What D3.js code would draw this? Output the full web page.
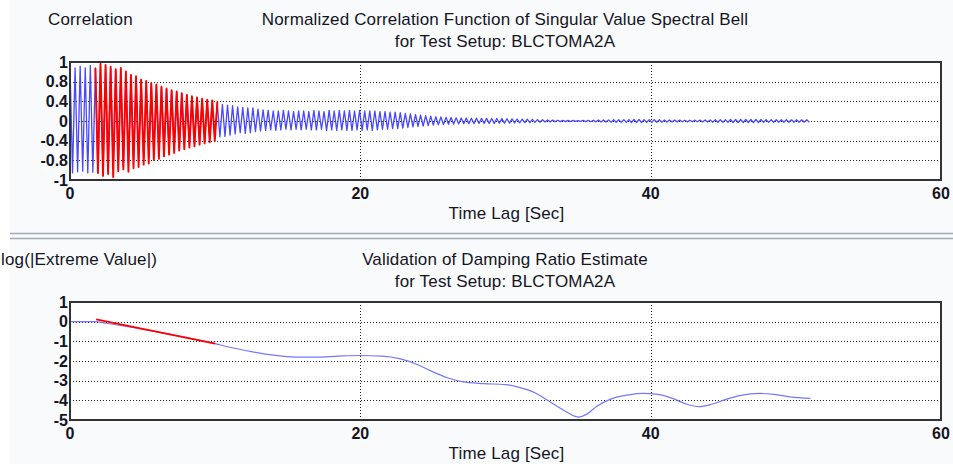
<!DOCTYPE html>
<html>
<head>
<meta charset="utf-8">
<script src="https://cdn.jsdelivr.net/npm/d3@7"></script>
<style>
    body { margin: 0; background: #ffffff; }
    #chart { width: 953px; height: 464px; }
    text { font-family: "Liberation Sans", Arial, sans-serif; fill: #15151f; }
    .tick-label { font-size: 16px; font-weight: bold; }
    .title { font-size: 17px; letter-spacing: 0.15px; }
</style>
</head>
<body>
<div id="chart"></div>
<script>

// time axis
let timeTicks = [0, 20, 40, 60];
let timeTickLabels = ["0", "20", "40", "60"];

// top panel: correlation, grid is in thirds but labelled like this
let corrTicks = [-1, -2 / 3, -1 / 3, 0, 1 / 3, 2 / 3, 1];
let corrTickLabels = ["-1", "-0.8", "-0.4", "0", "0.4", "0.8", "1"];

// extremes of the correlation function, one every half period
let corrStep = 0.175;
let corrStart = 0;
let corrExtremes = [
    0.95, -0.88, 0.9, -0.86, 0.93, -0.85, 0.9, -0.88, 0.94, -0.87,
    0.9, -0.88, 0.92, -0.86, 0.9, -0.84, 0.88, -0.82, 0.86, -0.8,
    0.84, -0.78, 0.8, -0.74, 0.76, -0.7, 0.73, -0.67, 0.7, -0.64,
    0.66, -0.62, 0.64, -0.58, 0.6, -0.55, 0.57, -0.52, 0.54, -0.5,
    0.51, -0.47, 0.49, -0.45, 0.46, -0.42, 0.44, -0.4, 0.41, -0.38,
    0.39, -0.36, 0.37, -0.34, 0.33, -0.3, 0.31, -0.28, 0.29, -0.27,
    0.28, -0.26, 0.27, -0.24, 0.26, -0.22, 0.24, -0.2, 0.23, -0.21,
    0.22, -0.2, 0.22, -0.18, 0.2, -0.17, 0.19, -0.16, 0.18, -0.15,
    0.17, -0.16, 0.17, -0.15, 0.18, -0.14, 0.17, -0.15, 0.16, -0.14,
    0.17, -0.15, 0.17, -0.14, 0.16, -0.15, 0.18, -0.15, 0.17, -0.14,
    0.16, -0.16, 0.18, -0.15, 0.17, -0.16, 0.18, -0.15, 0.17, -0.16,
    0.18, -0.16, 0.17, -0.15, 0.18, -0.16, 0.17, -0.15, 0.17, -0.16,
    0.17, -0.15, 0.16, -0.14, 0.16, -0.14, 0.15, -0.13, 0.15, -0.13,
    0.14, -0.12, 0.13, -0.11, 0.12, -0.1, 0.11, -0.09, 0.1, -0.085,
    0.09, -0.078, 0.082, -0.07, 0.074, -0.064, 0.068, -0.06, 0.062, -0.055,
    0.058, -0.052, 0.054, -0.049, 0.051, -0.047, 0.049, -0.045, 0.047, -0.044,
    0.046, -0.043, 0.045, -0.042, 0.044, -0.041, 0.043, -0.04, 0.042, -0.039,
    0.04, -0.037, 0.038, -0.035, 0.036, -0.033, 0.034, -0.031, 0.032, -0.029,
    0.03, -0.027, 0.027, -0.024, 0.024, -0.021, 0.021, -0.018, 0.018, -0.015,
    0.015, -0.013, 0.013, -0.011, 0.011, -0.01, 0.01, -0.009, 0.009, -0.008,
    0.008, -0.008, 0.009, -0.01, 0.011, -0.012, 0.013, -0.014, 0.015, -0.016,
    0.017, -0.018, 0.019, -0.02, 0.021, -0.022, 0.022, -0.023, 0.023, -0.024,
    0.024, -0.025, 0.025, -0.025, 0.025, -0.025, 0.024, -0.024, 0.024, -0.023,
    0.023, -0.022, 0.021, -0.02, 0.019, -0.018, 0.017, -0.016, 0.016, -0.015,
    0.015, -0.014, 0.014, -0.014, 0.013, -0.013, 0.014, -0.014, 0.015, -0.016,
    0.017, -0.018, 0.019, -0.02, 0.021, -0.022, 0.022, -0.023, 0.024, -0.024,
    0.025, -0.025, 0.025, -0.026, 0.026, -0.026, 0.026, -0.026, 0.026, -0.026,
    0.025, -0.025, 0.025, -0.024, 0.024, -0.023, 0.023, -0.022, 0.022, -0.022,
    0.021, -0.021, 0.021, -0.021, 0.02, -0.02, 0.02, -0.02, 0.02, -0.02,
    0.02, -0.02
];

// fitted (red) part of the correlation function
let fitStep = 0.175;
let fitStart = 1.75;
let fitExtremes = [
    0.9, -0.88, 0.97, -0.93, 0.95, -0.9, 0.92, -0.95, 0.88, -0.85,
    0.9, -0.82, 0.84, -0.86, 0.78, -0.8, 0.76, -0.78, 0.7, -0.74,
    0.68, -0.72, 0.64, -0.66, 0.62, -0.64, 0.58, -0.6, 0.55, -0.57,
    0.52, -0.54, 0.5, -0.5, 0.47, -0.48, 0.44, -0.45, 0.42, -0.43,
    0.4, -0.4, 0.38, -0.38, 0.36, -0.36, 0.35, -0.34, 0.33
];

// bottom panel: log of extreme values
let logTicks = [1, 0, -1, -2, -3, -4, -5];
let logTickLabels = ["1", "0", "-1", "-2", "-3", "-4", "-5"];

let logTime = [0, 1, 1.7, 2.5, 4, 6, 8, 10, 11, 12.5, 14, 15.5, 17, 18.5, 20, 21.5, 22.7, 24, 25, 26,
    27, 28.5, 30, 31, 32, 33, 34, 35, 35.6, 36.3, 37.2, 38.5, 39.5, 40.5, 41.5, 42.5, 43.3, 44.2,
    45.2, 46.2, 47.5, 48.5, 49.6, 51];
let logValue = [0, 0, 0, -0.08, -0.25, -0.52, -0.8, -1.12, -1.3, -1.52, -1.7, -1.8, -1.8, -1.75, -1.72, -1.75, -1.88, -2.2, -2.55, -2.85,
    -3.05, -3.15, -3.2, -3.35, -3.6, -4.05, -4.5, -4.85, -4.7, -4.3, -3.95, -3.72, -3.65, -3.7, -3.9, -4.2, -4.32, -4.2,
    -3.95, -3.75, -3.65, -3.7, -3.82, -3.9];

// damping fit line
let fitLineTime = [1.8, 10];
let fitLineValue = [0.12, -1.12];


class ChartPanel {

    constructor(svg, config) {
        this.svg = svg;
        this.config = config;
        this.initVis();
    }

    initVis() {
        let vis = this;
        let c = vis.config;

        vis.g = vis.svg.append("g");

        vis.x = d3.scaleLinear().domain([0, 60]).range([c.left, c.right]);
        vis.y = d3.scaleLinear().domain(c.domain).range([c.bottom, c.top]);

        // plot area
        vis.g.append("rect")
            .attr("x", c.left).attr("y", c.top)
            .attr("width", c.right - c.left)
            .attr("height", c.bottom - c.top)
            .attr("fill", "#ffffff");

        // horizontal dotted grid
        vis.g.selectAll(".hgrid")
            .data(c.yTicks.filter(d => d !== c.domain[0] && d !== c.domain[1]))
            .enter().append("line")
            .attr("class", "hgrid")
            .attr("x1", c.left).attr("x2", c.right)
            .attr("y1", d => Math.round(vis.y(d)) + 0.5)
            .attr("y2", d => Math.round(vis.y(d)) + 0.5)
            .attr("stroke", "#222")
            .attr("stroke-dasharray", "1,2");

        // vertical dotted grid
        vis.g.selectAll(".vgrid")
            .data(timeTicks.slice(1, -1))
            .enter().append("line")
            .attr("class", "vgrid")
            .attr("x1", d => Math.round(vis.x(d)) + 0.5)
            .attr("x2", d => Math.round(vis.x(d)) + 0.5)
            .attr("y1", c.top).attr("y2", c.bottom)
            .attr("stroke", "#222")
            .attr("stroke-dasharray", "1,2");

        // y tick labels
        vis.g.selectAll(".ylab")
            .data(c.yTicks)
            .enter().append("text")
            .attr("class", "tick-label")
            .attr("x", c.left - 2)
            .attr("y", d => vis.y(d))
            .attr("dy", "0.36em")
            .attr("text-anchor", "end")
            .text((d, i) => c.yTickLabels[i]);

        // x tick labels
        vis.g.selectAll(".xlab")
            .data(timeTicks)
            .enter().append("text")
            .attr("class", "tick-label")
            .attr("x", d => vis.x(d))
            .attr("y", c.bottom + 19)
            .attr("text-anchor", "middle")
            .text((d, i) => timeTickLabels[i]);

        vis.g.append("text")
            .attr("class", "title")
            .attr("x", (c.left + c.right) / 2 + 1)
            .attr("y", c.bottom + 39)
            .attr("text-anchor", "middle")
            .text("Time Lag [Sec]");

        // titles
        vis.g.append("text")
            .attr("class", "title")
            .attr("x", c.yLabelX)
            .attr("y", c.top - 37)
            .text(c.yLabel);

        c.titles.forEach((t, i) => {
            vis.g.append("text")
                .attr("class", "title")
                .attr("x", 505)
                .attr("y", c.top - 37 + i * 22)
                .attr("text-anchor", "middle")
                .text(t);
        });

        vis.lines = vis.g.append("g");

        // frame on top
        vis.g.append("rect")
            .attr("x", c.left).attr("y", c.top)
            .attr("width", c.right - c.left)
            .attr("height", c.bottom - c.top)
            .attr("fill", "none")
            .attr("stroke", "#333")
            .attr("stroke-width", 2);

        vis.updateVis();
    }

    updateVis() {
        let vis = this;

        let line = d3.line()
            .x(d => vis.x(d[0]))
            .y(d => vis.y(d[1]));

        vis.config.series.forEach(s => {
            vis.lines.append("path")
                .datum(s.points)
                .attr("d", line.curve(s.curve || d3.curveLinear))
                .attr("fill", "none")
                .attr("stroke", s.color)
                .attr("stroke-width", s.width)
                .attr("stroke-linejoin", "round");
        });
    }
}


let svg = d3.select("#chart").append("svg")
    .attr("width", 953)
    .attr("height", 464);

svg.append("rect")
    .attr("x", 10).attr("y", 0)
    .attr("width", 943).attr("height", 464)
    .attr("fill", "#f8fafc");

// separator between the two panels
[233.5, 238.5].forEach(y => {
    svg.append("line")
        .attr("x1", 10).attr("x2", 953)
        .attr("y1", y).attr("y2", y)
        .attr("stroke", "#a3aab5")
        .attr("stroke-width", 1.5);
});

let corrPoints = corrExtremes.map((v, i) => [corrStart + i * corrStep, v]);
let fitPoints = fitExtremes.map((v, i) => [fitStart + i * fitStep, v]);

new ChartPanel(svg, {
    left: 70, right: 941, top: 62, bottom: 180,
    domain: [-1, 1],
    yTicks: corrTicks,
    yTickLabels: corrTickLabels,
    yLabel: "Correlation",
    yLabelX: 48,
    titles: ["Normalized Correlation Function of Singular Value Spectral Bell", "for Test Setup: BLCTOMA2A"],
    series: [
        {points: corrPoints, color: "#4848ff", width: 1.3},
        {points: fitPoints, color: "#ff0000", width: 1.9}
    ]
});

new ChartPanel(svg, {
    left: 70, right: 941, top: 302, bottom: 420,
    domain: [-5, 1],
    yTicks: logTicks,
    yTickLabels: logTickLabels,
    yLabel: "log(|Extreme Value|)",
    yLabelX: 1,
    titles: ["Validation of Damping Ratio Estimate", "for Test Setup: BLCTOMA2A"],
    series: [
        {points: logTime.map((t, i) => [t, logValue[i]]), color: "#7676ff", width: 1.2, curve: d3.curveMonotoneX},
        {points: fitLineTime.map((t, i) => [t, fitLineValue[i]]), color: "#ff0000", width: 1.8}
    ]
});

</script>
</body>
</html>
